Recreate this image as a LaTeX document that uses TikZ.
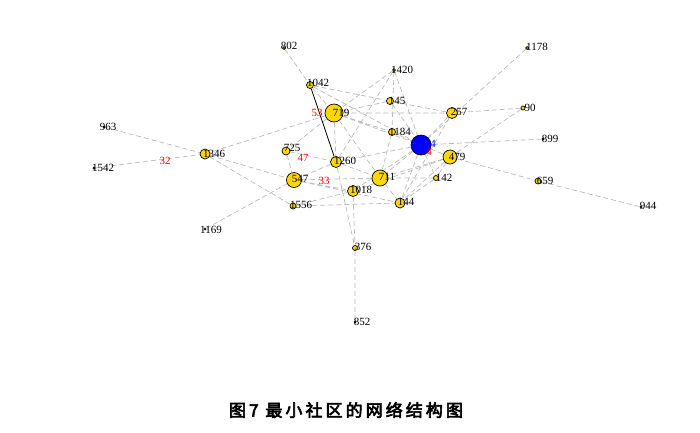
\documentclass[tikz,border=0pt]{standalone}
\usepackage{fontspec}
\setmainfont{Liberation Serif}
\newfontfamily\titlefont[FakeBold=3.5,LetterSpace=18]{Noto Sans CJK SC}
\usepackage{tikz}
\usetikzlibrary{backgrounds}

\definecolor{vyellow}{RGB}{255,215,0}
\definecolor{egray}{RGB}{185,185,185}

\begin{document}
\begin{tikzpicture}[x=1pt,y=-1pt,
  vtx/.style={circle, draw=black, line width=0.7pt, fill=vyellow, inner sep=0pt, minimum size=#1},
  hub/.style={circle, draw=black, line width=0.7pt, fill=blue, inner sep=0pt, minimum size=20pt},
  lbl/.style={inner sep=0pt, font=\fontsize{11}{12}\selectfont},
  wt/.style={lbl, text=red},
  edge/.style={draw=egray, line width=0.7pt, dash pattern=on 5pt off 3pt},
]
\useasboundingbox (0,0) rectangle (700,432);

% vertices
\node(n802)  [vtx=3pt]  at (284,48) {};
\node(n1042) [vtx=7pt]  at (310,85) {};
\node(n719)  [vtx=18pt] at (334,113) {};
\node(n1420) [vtx=3pt]  at (394,70) {};
\node(n145)  [vtx=7pt]  at (390,101) {};
\node(n257)  [vtx=11pt] at (452,113) {};
\node(n90)   [vtx=4pt]  at (523,108) {};
\node(n1178) [vtx=3pt]  at (527,48) {};
\node(n899)  [vtx=2pt]  at (543,139) {};
\node(n1184) [vtx=7pt]  at (392,132) {};
\node(n4)    [hub]      at (421,145) {};
\node(n479)  [vtx=14pt] at (450,157) {};
\node(n142)  [vtx=5pt]  at (436,178) {};
\node(n659)  [vtx=6pt]  at (538,181) {};
\node(n944)  [vtx=2pt]  at (641,207) {};
\node(n963)  [vtx=2pt]  at (104,127) {};
\node(n1542) [vtx=2pt]  at (94,168) {};
\node(n1346) [vtx=10pt] at (205,154) {};
\node(n1169) [vtx=2pt]  at (205,229) {};
\node(n725)  [vtx=8pt]  at (286,151) {};
\node(n1260) [vtx=11pt] at (336,162) {};
\node(n547)  [vtx=15pt] at (294,180) {};
\node(n1018) [vtx=11pt] at (353,191) {};
\node(n711)  [vtx=16pt] at (380,178) {};
\node(n1556) [vtx=6pt]  at (293,206) {};
\node(n144)  [vtx=10pt] at (400,203) {};
\node(n376)  [vtx=5pt]  at (355,248) {};
\node(n852)  [vtx=2pt]  at (355,322) {};

% links
\begin{scope}[on background layer]
\draw[edge] (n802) -- (n1042) (n1042) -- (n145) (n1042) -- (n4) (n1042) -- (n719);
\draw[edge] (n1420) -- (n719) (n1420) -- (n1184) (n1420) -- (n4) (n1420) -- (n1260);
\draw[edge] (n719) -- (n145) (n719) -- (n257) (n719) -- (n4) (n719) -- (n1184);
\draw[edge] (n719) -- (n1346) (n719) -- (n725) (n719) -- (n1260) (n719) -- (n711);
\draw[edge] (n145) -- (n4) (n145) -- (n257) (n1178) -- (n4) (n90) -- (n257) (n90) -- (n479);
\draw[edge] (n899) -- (n4) (n257) -- (n4) (n257) -- (n144);
\draw[edge] (n4) -- (n1184) (n4) -- (n479) (n4) -- (n711) (n4) -- (n1260);
\draw[edge] (n4) -- (n142) (n4) -- (n144) (n4) -- (n1018);
\draw[edge] (n479) -- (n659) (n659) -- (n944) (n479) -- (n711) (n479) -- (n142);
\draw[edge] (n479) -- (n144) (n479) -- (n1018);
\draw[edge] (n963) -- (n1346) (n1542) -- (n1346) (n1346) -- (n547) (n1346) -- (n1556);
\draw[edge] (n1169) -- (n547) (n725) -- (n1260) (n725) -- (n547);
\draw[edge] (n1260) -- (n547) (n1260) -- (n711) (n1260) -- (n376);
\draw[edge] (n547) -- (n711) (n547) -- (n1018) (n547) -- (n144);
\draw[edge] (n1556) -- (n1018) (n1556) -- (n144) (n1018) -- (n376) (n376) -- (n852);
\draw[edge] (n711) -- (n142) (n711) -- (n144) (n711) -- (n1184) (n142) -- (n144);
\end{scope}
\draw[black, line width=0.8pt] (n1042) -- (n1260);

% names
\node(t802)  [lbl] at (289,46)  {802};
\node(t1042) [lbl] at (318,83)  {1042};
\node(t719)  [lbl] at (341,113) {719};
\node(t1420) [lbl] at (402,70)  {1420};
\node(t145)  [lbl] at (397,101) {145};
\node(t257)  [lbl] at (459,112) {257};
\node(t90)   [lbl] at (530,108) {90};
\node(t1178) [lbl] at (537,47)  {1178};
\node(t899)  [lbl] at (550,139) {899};
\node(t1184) [lbl] at (400,132) {1184};
\node(t4)    [lbl,text=blue] at (433,144) {4};
\node(t479)  [lbl] at (457,157) {479};
\node(t142)  [lbl] at (444,178) {142};
\node(t659)  [lbl] at (545,181) {659};
\node(t944)  [lbl] at (648,206) {944};
\node(t963)  [lbl] at (108,127) {963};
\node(t1542) [lbl] at (103,168) {1542};
\node(t1346) [lbl] at (214,154) {1346};
\node(t1169) [lbl] at (211,230) {1169};
\node(t725)  [lbl] at (292,148) {725};
\node(t1260) [lbl] at (345,161) {1260};
\node(t547)  [lbl] at (300,179) {547};
\node(t1018) [lbl] at (361,190) {1018};
\node(t711)  [lbl] at (387,177) {711};
\node(t1556) [lbl] at (301,205) {1556};
\node(t144)  [lbl] at (406,202) {144};
\node(t376)  [lbl] at (363,247) {376};
\node(t852)  [lbl] at (362,322) {852};

% red marks
\node(w53) [wt] at (317,113) {53};
\node(w47) [wt] at (303,158) {47};
\node(w33) [wt] at (324,181) {33};
\node(w32) [wt] at (165,161) {32};
\node(w4)  [wt] at (429,152) {4};

\node(title) [font=\titlefont\fontsize{17}{20}\selectfont] at (346,410) {图7 最小社区的网络结构图};
\end{tikzpicture}
\end{document}
